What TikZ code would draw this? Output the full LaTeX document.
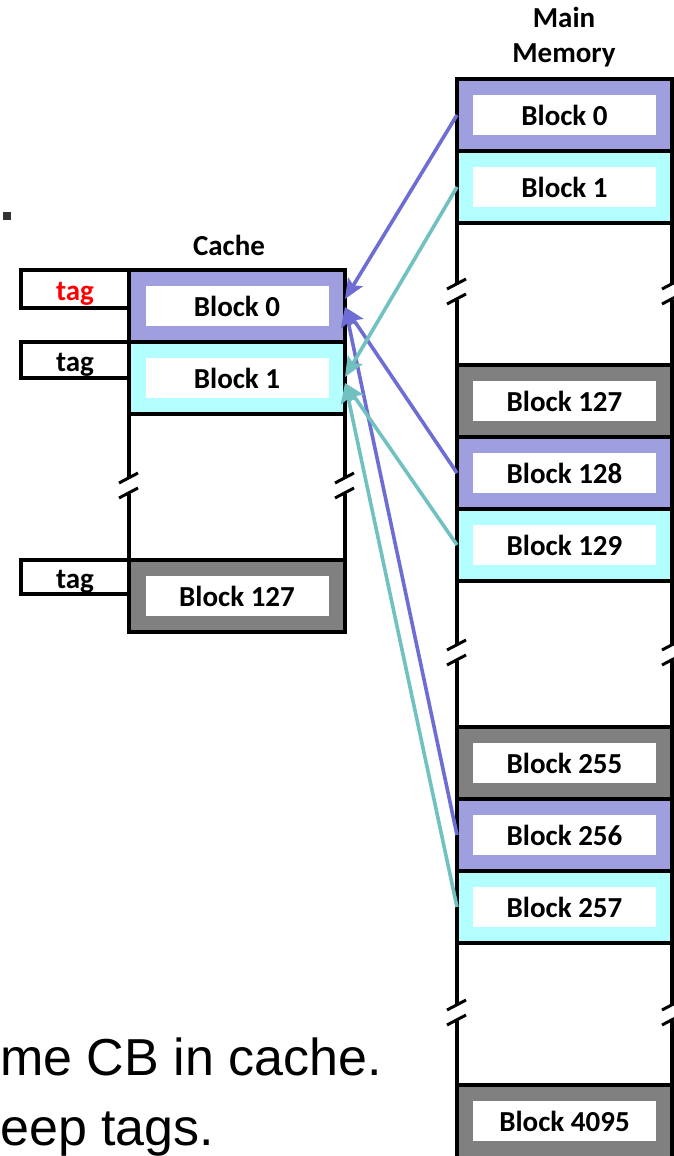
\documentclass[tikz,border=0pt]{standalone}
\usepackage{fontspec}
\setmainfont{Carlito}
\newfontfamily\notefont{Liberation Sans}
\usetikzlibrary{positioning, arrows.meta, calc}
\definecolor{blkblue}{HTML}{9F9FDF}
\definecolor{blkcyan}{HTML}{B3FFFF}
\definecolor{blkgray}{HTML}{808080}
\definecolor{arrblue}{HTML}{6D6DD4}
\definecolor{arrcyan}{HTML}{72C1C1}
\definecolor{bulletgray}{HTML}{333333}
\tikzset{
  cacherow/.style={
    draw, line width=3.6pt, outer sep=0pt, inner sep=0pt,
    minimum width=216pt, minimum height=72pt, anchor=north west
  },
  memrow/.style={
    draw, line width=3.6pt, outer sep=0pt, inner sep=0pt,
    minimum width=215pt, minimum height=72pt, anchor=north west
  },
  blocklabel/.style={
    fill=white, inner sep=0pt,
    minimum width=183pt, minimum height=40pt,
    font=\fontsize{29}{30}\selectfont\bfseries
  },
  tagbox/.style={
    draw, line width=3.6pt, outer sep=0pt, inner sep=0pt,
    minimum width=108pt, minimum height=38pt, anchor=north east,
    text height=22pt, text depth=0pt,
    font=\fontsize{29}{30}\selectfont\bfseries
  },
  title/.style={font=\fontsize{29}{35}\selectfont\bfseries, align=center},
  mapblue/.style={-{Stealth[length=20pt,width=17pt,inset=4pt]}, line width=3.6pt, draw=arrblue},
  mapcyan/.style={-{Stealth[length=20pt,width=17pt,inset=4pt]}, line width=3.6pt, draw=arrcyan},
  breakline/.style={line width=3pt},
}

\begin{document}
\begin{tikzpicture}[x=1pt, y=-1pt]
  \useasboundingbox (0,0) rectangle (673,1156);

  % cache
  \node[cacherow, fill=blkblue] (c0) at (129,270) {};
  \node[cacherow, fill=blkcyan] (c1) at (129,342) {};
  \node[cacherow, minimum height=146pt] (cgap) at (129,414) {};
  \node[cacherow, fill=blkgray] (c127) at (129,560) {};
  \foreach \lbl in {0,1,127} {
    \node[blocklabel] at (c\lbl) {Block \lbl};
  }
  \node[title] (cachetitle) at (229,245) {Cache};

  \node[tagbox, text=red] (t0) at (c0.north west) {tag};
  \node[tagbox, minimum height=36pt] (t1) at (c1.north west) {tag};
  \node[tagbox, minimum height=34pt] (t127) at (c127.north west) {tag};

  % main memory
  \foreach \lbl/\top/\col in {0/79/blkblue, 1/151/blkcyan, 127/365/blkgray,
      128/437/blkblue, 129/509/blkcyan, 255/727/blkgray,
      256/799/blkblue, 257/871/blkcyan} {
    \node[memrow, fill=\col] (m\lbl) at (457,\top) {};
    \node[blocklabel] at (m\lbl) {Block \lbl};
  }
  \node[memrow, fill=blkgray, minimum height=76pt] (m4095) at (457,1085) {};
  \node[blocklabel] at ([yshift=2pt]m4095) {Block 4095};
  \node[memrow, minimum height=142pt] (mgap1) at (457,223) {};
  \node[memrow, minimum height=146pt] (mgap2) at (457,581) {};
  \node[memrow, minimum height=142pt] (mgap3) at (457,943) {};
  \node[title] (memtitle) at (564,37) {Main\\Memory};

  % breaks in the columns
  \foreach \bx/\by in {129/486, 345/486, 457/292, 672/292,
      457/653, 672/653, 457/1013, 672/1013} {
    \fill[white] (\bx-3,\by-8) rectangle (\bx+3,\by+8);
    \draw[breakline] (\bx-10,\by-3) -- (\bx+9,\by-13);
    \draw[breakline] (\bx-10,\by+12) -- (\bx+9,\by+2);
  }

  % mapping
  \draw[mapblue] (m0.west) -- ([yshift=7pt]c0.east);
  \draw[mapblue] (m128.west) -- ([yshift=-1pt]c0.east);
  \draw[mapblue] (m256.west) -- ([yshift=-1pt]c0.east);
  \draw[mapcyan] (m1.west) -- ([yshift=1pt]c1.east);
  \draw[mapcyan] (m129.west) -- ([yshift=-5pt]c1.east);
  \draw[mapcyan] (m257.west) -- ([yshift=-5pt]c1.east);

  \node[fill=bulletgray, inner sep=0pt, minimum size=8pt] (bullet) at (7,216) {};
  \node[anchor=base west, inner sep=0pt, font=\notefont\fontsize{52}{60}\selectfont]
    (note1) at (0,1075) {me CB in cache.};
  \node[anchor=base west, inner sep=0pt, font=\notefont\fontsize{52}{60}\selectfont]
    (note2) at (0,1145) {eep tags.};
\end{tikzpicture}
\end{document}
